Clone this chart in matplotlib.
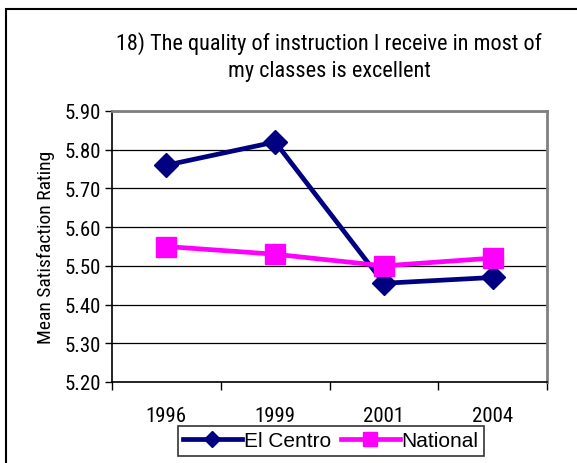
import matplotlib
matplotlib.use("Agg")
import matplotlib.pyplot as plt
from matplotlib import font_manager
from matplotlib.patches import Rectangle
from matplotlib.ticker import FixedLocator, NullFormatter

years = ["1996", "1999", "2001", "2004"]
el_centro = [5.76, 5.82, 5.455, 5.47]
national = [5.55, 5.53, 5.50, 5.52]
yticks = [5.20, 5.30, 5.40, 5.50, 5.60, 5.70, 5.80, 5.90]

names = {f.name for f in font_manager.fontManager.ttflist}
narrow = next((n for n in ["Roboto Condensed", "Archivo Narrow", "PT Sans Narrow"] if n in names), "DejaVu Sans")
reg = "Liberation Sans" if "Liberation Sans" in names else "DejaVu Sans"

W, H = 577, 464
fig = plt.figure(figsize=(W / 100, H / 100), dpi=100)
fig.patch.set_facecolor("white")

# outer frame
fig.add_artist(Rectangle((6 / W, -0.1), 1.2, (H - 10) / H + 0.1, transform=fig.transFigure,
                         fill=False, edgecolor="black", linewidth=1.5))

ax = fig.add_axes([112 / W, 1 - 383 / H, (547 - 112) / W, (383 - 112) / H])
x = list(range(len(years)))
ax.plot(x, el_centro, color="#000080", lw=3.4, marker="D", ms=12, label="El Centro", zorder=3)
ax.plot(x, national, color="#FF00FF", lw=3.4, marker="s", ms=14, label="National", zorder=3)

ax.set_xlim(-0.5, len(years) - 0.5)
ax.set_ylim(5.20, 5.90)
ax.set_yticks(yticks)
ax.set_yticklabels([f"{v:.2f}" for v in yticks], fontfamily=narrow, fontsize=15)
ax.xaxis.set_major_locator(FixedLocator([i - 0.5 for i in range(len(years) + 1)]))
ax.xaxis.set_major_formatter(NullFormatter())
ax.xaxis.set_minor_locator(FixedLocator(x))
ax.set_xticklabels(years, minor=True, fontfamily=narrow, fontsize=15)
ax.tick_params(axis="x", which="minor", length=0, pad=17)
ax.tick_params(axis="x", which="major", length=6, width=1, direction="out")
ax.tick_params(axis="y", length=5, width=1, direction="out", pad=3)
ax.grid(axis="y", color="black", lw=0.9)
ax.set_axisbelow(True)
for s in ["left", "bottom"]:
    ax.spines[s].set_color("black")
    ax.spines[s].set_linewidth(1.2)
for s in ["top", "right"]:
    ax.spines[s].set_color("#808080")
    ax.spines[s].set_linewidth(2)

ax.set_ylabel("Mean Satisfaction Rating", fontfamily=narrow, fontsize=14, labelpad=7)

fig.text(329 / W, 1 - 57 / H, "18) The quality of instruction I receive in most of\nmy classes is excellent",
         ha="center", va="center", fontfamily=narrow, fontsize=16, linespacing=1.4)

leg = fig.legend(loc="center", bbox_to_anchor=(331 / W, 1 - 442 / H), ncol=2,
                 prop={"family": reg, "size": 15}, frameon=True, fancybox=False,
                 edgecolor="black", handlelength=2.8, handletextpad=0.1, columnspacing=0.5,
                 borderpad=0.25, markerscale=0.7)
leg.get_frame().set_linewidth(1.2)

fig.savefig("out.png", dpi=100)
